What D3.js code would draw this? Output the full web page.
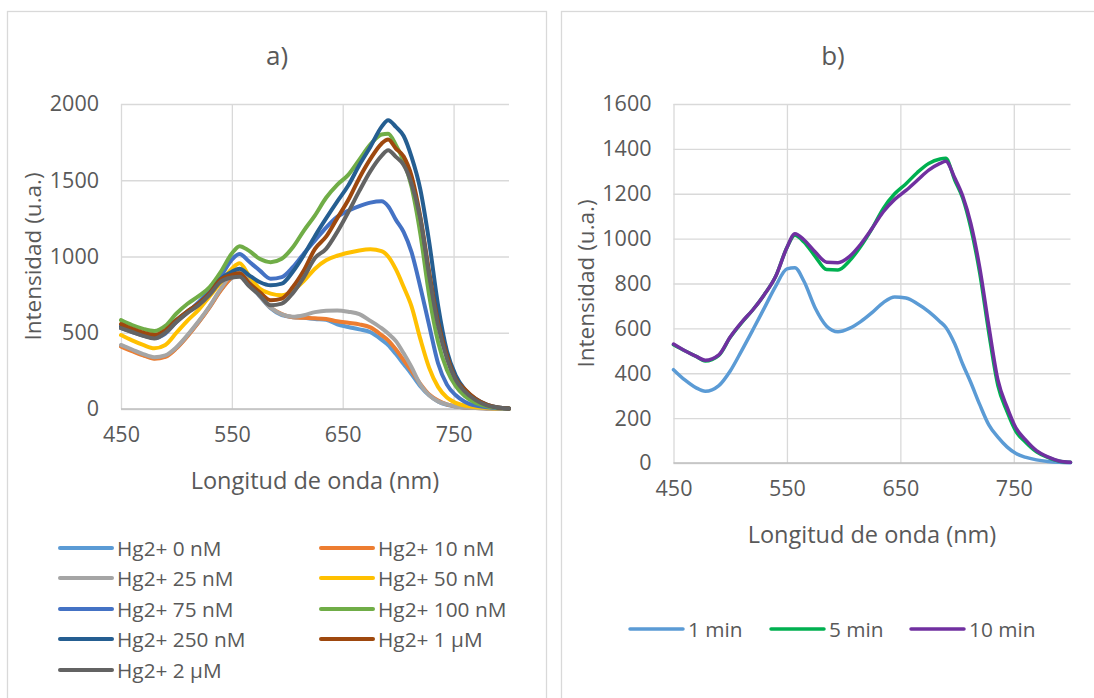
<!DOCTYPE html>
<html><head><meta charset="utf-8">
<script src="https://cdn.jsdelivr.net/npm/d3@7"></script>
<style>
body{margin:0;background:#fff}
svg{display:block;font-family:"Open Sans",sans-serif}
</style>
</head><body>
<svg id="chart" width="1094" height="698"></svg>
<script>
// ---------- Panel a data ----------
const wavelengthsA = [450,460,470,480,490,500,510,520,530,540,550,557,565,575,585,595,605,615,625,635,645,655,665,675,685,691,698,705,712,720,728,736,744,752,760,770,780,790,800];
const hg0nM   = [415,385,355,333,345,400,480,570,670,780,860,880,830,740,660,615,602,598,590,585,555,538,522,503,455,420,360,295,230,150,90,50,27,16,10,6,4,2,1];
const hg10nM  = [410,380,352,330,342,398,478,568,668,778,862,890,840,745,665,622,602,598,595,590,575,565,555,535,485,450,390,320,250,165,95,55,30,18,10,6,4,2,1];
const hg25nM  = [420,390,360,340,352,405,485,575,675,790,885,910,850,745,665,620,605,615,635,645,646,638,622,578,530,495,445,365,275,160,90,50,30,17,10,6,4,2,1];
const hg50nM  = [485,450,420,398,420,500,580,650,740,830,920,955,880,790,757,746,775,840,920,975,1005,1025,1040,1047,1035,1000,915,800,675,460,270,145,75,40,22,12,7,4,2];
const hg75nM  = [530,505,482,465,495,570,635,700,780,870,980,1017,970,909,854,865,930,1020,1105,1190,1260,1300,1330,1353,1362,1330,1240,1160,1030,800,548,300,160,90,48,22,11,5,2];
const hg100nM = [583,550,525,511,545,626,690,740,800,900,1020,1068,1040,985,963,985,1060,1170,1270,1385,1470,1535,1635,1735,1800,1805,1730,1625,1460,1150,745,440,255,150,85,40,18,8,4];
const hg250nM = [543,515,490,474,510,583,640,691,760,854,900,920,880,833,811,822,900,1010,1135,1250,1360,1465,1600,1720,1850,1894,1850,1790,1655,1440,1095,680,380,219,130,66,28,10,4];
const hg1uM   = [557,525,500,485,515,583,640,691,760,850,880,890,830,767,713,724,800,910,1050,1130,1250,1370,1515,1640,1740,1767,1708,1655,1530,1260,898,570,350,197,130,66,28,10,4];
const hg2uM   = [530,505,480,463,500,570,630,680,750,835,862,868,810,746,680,691,760,865,990,1050,1160,1290,1430,1560,1660,1697,1653,1600,1480,1250,876,550,330,190,115,58,24,10,4];
const namesA   = ["Hg2+ 0 nM","Hg2+ 10 nM","Hg2+ 25 nM","Hg2+ 50 nM","Hg2+ 75 nM","Hg2+ 100 nM","Hg2+ 250 nM","Hg2+ 1 µM","Hg2+ 2 µM"];
const coloursA = ["#5B9BD5","#ED7D31","#A5A5A5","#FFC000","#4472C4","#70AD47","#255E91","#9E480E","#636363"];
const yTicksA  = [0,500,1000,1500,2000];

// ---------- Panel b data ----------
const wavelengthsB = [450,460,470,478,490,500,510,520,530,540,550,557,565,575,585,595,605,615,625,635,645,655,665,675,685,690,698,705,712,720,728,736,744,752,760,770,780,790,800];
const min1  = [416,370,335,320,345,410,500,594,690,787,865,870,810,690,610,585,600,630,670,715,740,735,710,675,630,605,530,440,360,260,170,115,72,42,26,14,7,3,1];
const min5  = [527,500,475,455,480,560,625,683,750,831,960,1015,985,920,862,860,900,965,1045,1135,1200,1245,1295,1335,1355,1358,1260,1180,1050,846,580,345,230,140,95,50,25,8,3];
const min10 = [530,500,475,458,482,562,627,683,750,831,960,1022,995,940,895,893,920,975,1045,1120,1175,1215,1260,1305,1335,1345,1270,1190,1070,870,610,370,250,155,105,55,27,9,3];
const namesB   = ["1 min","5 min","10 min"];
const coloursB = ["#5B9BD5","#00B050","#7030A0"];
const yTicksB  = [0,200,400,600,800,1000,1200,1400,1600];

const xTicks = [450,550,650,750];

const svg = d3.select("#chart");
const TEXT = "#595959", GRID = "#D9D9D9", AXIS = "#BFBFBF";
const FONT = "'Open Sans',sans-serif";

// panel borders
svg.append("rect").attr("x",7.5).attr("y",11.5).attr("width",539).attr("height",720)
  .attr("fill","none").attr("stroke",GRID).attr("stroke-width",1.3);
svg.append("rect").attr("x",561.5).attr("y",11.5).attr("width",560).attr("height",720)
  .attr("fill","none").attr("stroke",GRID).attr("stroke-width",1.3);

function panel(cfg){
  const x = d3.scaleLinear().domain([450,800]).range([cfg.left,cfg.right]);
  const y = d3.scaleLinear().domain([0,cfg.yMax]).range([cfg.bottom,cfg.top]);
  const g = svg.append("g");
  // horizontal grid
  g.append("g").attr("transform",`translate(${cfg.left},0)`)
    .call(d3.axisLeft(y).tickValues(cfg.yTicks).tickSize(-(cfg.right-cfg.left)).tickFormat(""))
    .call(s=>s.select(".domain").remove())
    .call(s=>s.selectAll("line").attr("stroke",GRID).attr("stroke-width",1.3));
  // vertical grid
  g.append("g").attr("transform",`translate(0,${cfg.top})`)
    .call(d3.axisTop(x).tickValues(xTicks).tickSize(-(cfg.bottom-cfg.top)).tickFormat(""))
    .call(s=>s.select(".domain").remove())
    .call(s=>s.selectAll("line").attr("stroke",GRID).attr("stroke-width",1.3));
  // x axis line
  g.append("line").attr("x1",x(450)).attr("x2",x(800)).attr("y1",y(0)).attr("y2",y(0))
    .attr("stroke",AXIS).attr("stroke-width",1.3);
  // y tick labels
  g.append("g").attr("transform",`translate(${cfg.left},0)`)
    .call(d3.axisLeft(y).tickValues(cfg.yTicks).tickSize(0).tickPadding(22).tickFormat(d3.format("d")))
    .call(s=>s.select(".domain").remove())
    .call(s=>s.selectAll("text").attr("fill",TEXT).style("font-size","21.5px").style("font-family",FONT));
  // x tick labels
  g.append("g").attr("transform",`translate(0,${cfg.bottom})`)
    .call(d3.axisBottom(x).tickValues(xTicks).tickSize(0).tickPadding(18).tickFormat(d3.format("d")))
    .call(s=>s.select(".domain").remove())
    .call(s=>s.selectAll("text").attr("fill",TEXT).style("font-size","21.5px").style("font-family",FONT));
  // series
  const line = d3.line().x(d=>x(d[0])).y(d=>y(d[1])).curve(d3.curveMonotoneX);
  cfg.series.forEach((vals,i)=>{
    g.append("path").datum(cfg.wl.map((w,j)=>[w,vals[j]]))
      .attr("d",line).attr("fill","none").attr("stroke",cfg.colours[i])
      .attr("stroke-width",cfg.lw).attr("stroke-linejoin","round").attr("stroke-linecap","round");
  });
  // titles
  svg.append("text").attr("x",cfg.titleX).attr("y",55).attr("text-anchor","middle")
    .attr("dominant-baseline","central").attr("fill",TEXT).style("font-size","26px").text(cfg.title);
  svg.append("text").attr("x",(cfg.left+cfg.right)/2).attr("y",cfg.bottom+71).attr("text-anchor","middle")
    .attr("dominant-baseline","central").attr("fill",TEXT).style("font-size","23.5px").text("Longitud de onda (nm)");
  svg.append("text").attr("transform",`translate(${cfg.yTitleX},${(cfg.top+cfg.bottom)/2}) rotate(-90)`)
    .attr("text-anchor","middle").attr("dominant-baseline","central").attr("fill",TEXT)
    .style("font-size","22.5px").text("Intensidad (u.a.)");
  // legend
  cfg.legend.forEach((it,i)=>{
    svg.append("line").attr("x1",it.x).attr("x2",it.x+cfg.legLen).attr("y1",it.y).attr("y2",it.y)
      .attr("stroke",cfg.colours[i]).attr("stroke-width",cfg.lw).attr("stroke-linecap","round");
    svg.append("text").attr("x",it.x+cfg.legLen+5).attr("y",it.y).attr("dominant-baseline","central")
      .attr("fill",TEXT).style("font-size","20.8px").text(cfg.names[i]);
  });
}

const rowsA = [548,578,609,639,670];
panel({
  left:121,right:509,top:104,bottom:409,yMax:2000,yTicks:yTicksA,wl:wavelengthsA,
  series:[hg0nM,hg10nM,hg25nM,hg50nM,hg75nM,hg100nM,hg250nM,hg1uM,hg2uM],
  colours:coloursA,names:namesA,lw:4,title:"a)",titleX:277,yTitleX:32,legLen:52,
  legend:namesA.map((n,i)=>({x:i%2===0?60:321,y:rowsA[Math.floor(i/2)]}))
});
panel({
  left:673.5,right:1070.5,top:104,bottom:463,yMax:1600,yTicks:yTicksB,wl:wavelengthsB,
  series:[min1,min5,min10],
  colours:coloursB,names:namesB,lw:3.5,title:"b)",titleX:833,yTitleX:585,legLen:53,
  legend:[{x:630,y:629},{x:771,y:629},{x:911,y:629}]
});
</script>
</body></html>
